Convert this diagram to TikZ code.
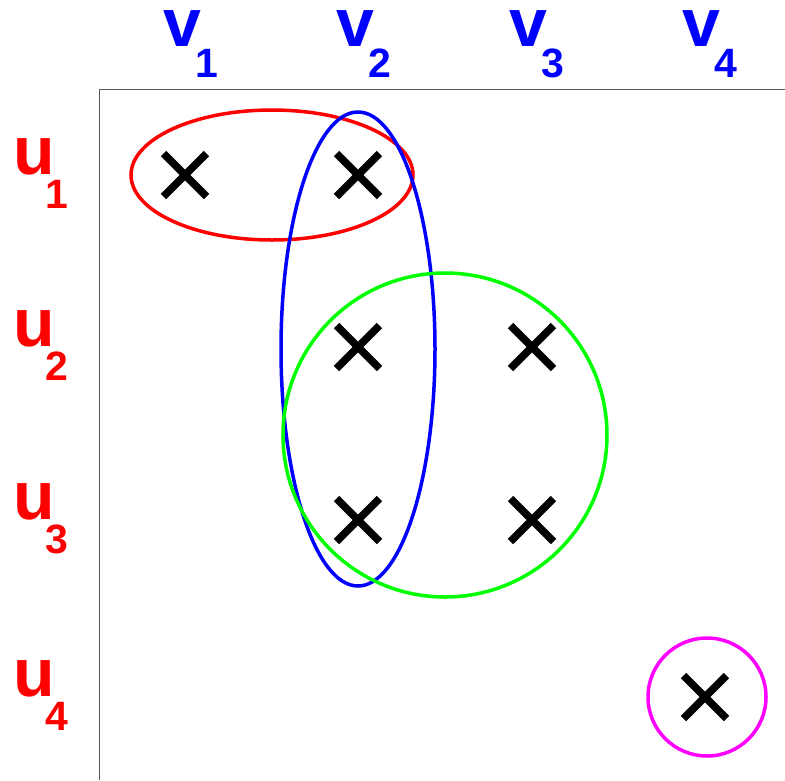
\documentclass[tikz,border=0pt]{standalone}
\usepackage{fontspec}
\setmainfont{Liberation Sans}
\usetikzlibrary{calc}
\definecolor{cred}{RGB}{255,0,0}
\definecolor{cblue}{RGB}{0,0,255}
\definecolor{cgreen}{RGB}{0,255,0}
\definecolor{cmag}{RGB}{255,0,255}
\begin{document}
\begin{tikzpicture}[x=1pt,y=-1pt,
  lbl/.style={font=\fontsize{68}{68}\selectfont\bfseries, inner sep=0pt, anchor=base, text height=36pt, text depth=0pt},
  sub/.style={font=\fontsize{41}{41}\selectfont\bfseries, inner sep=0pt, anchor=base, text height=29pt, text depth=0pt},
  cross/.style={line width=7.5pt, black},
  ring/.style={line width=3.5pt}]
\useasboundingbox (0,0) rectangle (785,780);
% frame
\draw[gray!70!black, line width=1pt] (99,780) -- (99,89) -- (785,89);
% column labels
\foreach \i/\x in {1/182,2/355,3/528,4/701}{
  \node[lbl, text=cblue] (v\i) at (\x,46) {v};
  \node[sub, text=cblue] (vs\i) at (\x+25,77) {\i};
}
% row labels
\foreach \i/\y in {1/175,2/347,3/520,4/697}{
  \node[lbl, text=cred] (u\i) at (34,\y-1) {u};
  \node[sub, text=cred] (us\i) at (57,\y+33) {\i};
}
% crosses
\foreach \n/\x/\y in {a/185/175, b/358/175, c/358/347, d/532/347, e/358/520, f/532/520, g/705/697}{
  \coordinate (\n) at (\x,\y);
  \draw[cross] ($(\n)+(-21.5,-21.5)$) -- ($(\n)+(21.5,21.5)$);
  \draw[cross] ($(\n)+(-21.5,21.5)$) -- ($(\n)+(21.5,-21.5)$);
}
% groups
\coordinate (redc) at (272,175);
\coordinate (bluec) at (358,349);
\coordinate (greenc) at (445,435);
\coordinate (magc) at (707,697);
\draw[ring, cred] (redc) ellipse [x radius=141, y radius=65];
\draw[ring, cblue] (bluec) ellipse [x radius=77, y radius=237];
\draw[ring, cgreen] (greenc) circle [radius=162];
\draw[ring, cmag] (magc) circle [radius=59];
\end{tikzpicture}
\end{document}
